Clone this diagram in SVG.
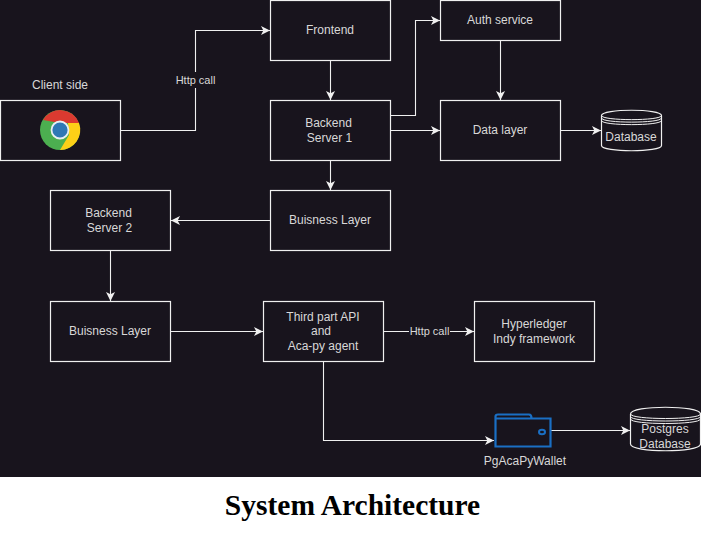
<svg xmlns="http://www.w3.org/2000/svg" width="701" height="535" viewBox="0 0 701 535">
<style>
.n{fill:#18141d;stroke:#f0f0f0;stroke-width:1.2}
.c{fill:none;stroke:#f0f0f0;stroke-width:1.1;marker-end:url(#a)}
.t{font-family:"Liberation Sans",Arial,sans-serif;font-size:12px;fill:#d8d8d8;text-anchor:middle}
.b{fill:none;stroke:#f0f0f0;stroke-width:1}
</style>
<defs><marker id="a" markerUnits="userSpaceOnUse" markerWidth="12" markerHeight="12" refX="9" refY="5" orient="auto"><path d="M0 0.500L9 5L0 9.500L2.300 5Z" fill="#f0f0f0"/></marker></defs>
<rect width="701" height="535" fill="#fff"/>
<rect width="701" height="477" fill="#18141d"/>
<g id="connectors">
<path class="c" d="M120.500 130.500H195.500V30.500H270"/>
<path class="c" d="M330.500 60V100"/>
<path class="c" d="M390.500 115.500H415.500V20.500H440"/>
<path class="c" d="M390.500 130.500H440"/>
<path class="c" d="M500.500 40V100"/>
<path class="c" d="M560.500 130.500H601"/>
<path class="c" d="M330.500 160V190"/>
<path class="c" d="M270 220.500H171"/>
<path class="c" d="M110.500 250V301"/>
<path class="c" d="M170 331.500H263"/>
<path class="c" d="M383 331.500H474"/>
<path class="c" d="M323.500 361V440.500H494"/>
<path class="c" d="M551 430.500H630"/>
<rect x="176" y="72" width="39" height="16" fill="#18141d"/>
<rect x="409" y="324" width="41" height="15" fill="#18141d"/>
<text class="t" x="195.500" y="84" style="font-size:11px">Http call</text>
<text class="t" x="429.500" y="335" style="font-size:11px">Http call</text>
</g>
<g id="client"><text class="t" x="60" y="89">Client side</text>
<rect class="n" x="0.500" y="100.500" width="120" height="60"/>
<circle cx="60" cy="130" r="20" fill="#4caf50"/>
<path d="M43 120A20 20 0 0 1 79 123L60 123Z" fill="#db3a30"/>
<path d="M79 123A20 20 0 0 1 60 150L69 135L68 123Z" fill="#fdd017"/>
<circle cx="60" cy="130" r="8.500" fill="#2f78b5" stroke="#e8eef2" stroke-width="1.800"/>
</g>
<g id="frontend"><rect class="n" x="270.500" y="0.500" width="120" height="60"/><text class="t" x="330" y="34">Frontend</text></g>
<g id="auth"><rect class="n" x="440.500" y="0.500" width="120" height="40"/><text class="t" x="500" y="24">Auth service</text></g>
<g id="backend1"><rect class="n" x="270.500" y="100.500" width="120" height="60"/><text class="t" x="328.500" y="127">Backend</text><text class="t" x="329.500" y="142">Server 1</text></g>
<g id="datalayer"><rect class="n" x="440.500" y="100.500" width="120" height="60"/><text class="t" x="500" y="134">Data layer</text></g>
<g id="database">
<path class="n" d="M601.500 115.500C601.500 108.500 661.500 108.500 661.500 115.500V145.500C661.500 152.500 601.500 152.500 601.500 145.500Z"/>
<path class="b" d="M601.500 115.500C601.500 121 661.500 121 661.500 115.500M601.500 118C601.500 123.500 661.500 123.500 661.500 118M601.500 120.500C601.500 126 661.500 126 661.500 120.500"/>
<text class="t" x="631" y="141">Database</text></g>
<g id="biz1"><rect class="n" x="270.500" y="190.500" width="120" height="60"/><text class="t" x="330" y="224">Buisness Layer</text></g>
<g id="backend2"><rect class="n" x="50.500" y="190.500" width="120" height="60"/><text class="t" x="108.500" y="217">Backend</text><text class="t" x="109.500" y="232">Server 2</text></g>
<g id="biz2"><rect class="n" x="50.500" y="301.500" width="120" height="60"/><text class="t" x="110" y="335">Buisness Layer</text></g>
<g id="thirdparty"><rect class="n" x="263.500" y="301.500" width="120" height="60"/><text class="t" x="323" y="321">Third part API</text><text class="t" x="321" y="335">and</text><text class="t" x="323" y="350">Aca-py agent</text></g>
<g id="hyperledger"><rect class="n" x="474.500" y="301.500" width="120" height="60"/><text class="t" x="534" y="328">Hyperledger</text><text class="t" x="534" y="343">Indy framework</text></g>
<g id="wallet">
<path d="M495.500 446.500V416.500Q495.500 414.500 498 414.500H529Q531.500 414.500 531.500 418.500H550.500V446.500ZM495.500 418.500H531.500" fill="none" stroke="#1a6fc4" stroke-width="2.200"/>
<ellipse cx="542" cy="432" rx="3" ry="2.300" fill="none" stroke="#1a6fc4" stroke-width="2"/>
<text class="t" x="525" y="465">PgAcaPyWallet</text></g>
<g id="postgres">
<path class="n" d="M630.500 414C630.500 405 700.500 405 700.500 414V444C700.500 453 630.500 453 630.500 444Z"/>
<path class="b" d="M630.500 414C630.500 420 700.500 420 700.500 414M630.500 416.500C630.500 422.500 700.500 422.500 700.500 416.500M630.500 419C630.500 425 700.500 425 700.500 419"/>
<text class="t" x="665" y="433">Postgres</text><text class="t" x="665" y="448">Database</text></g>
<text x="352.500" y="515" text-anchor="middle" font-family="'Liberation Serif','Times New Roman',serif" font-size="29.500" font-weight="bold" fill="#000">System Architecture</text>
</svg>
